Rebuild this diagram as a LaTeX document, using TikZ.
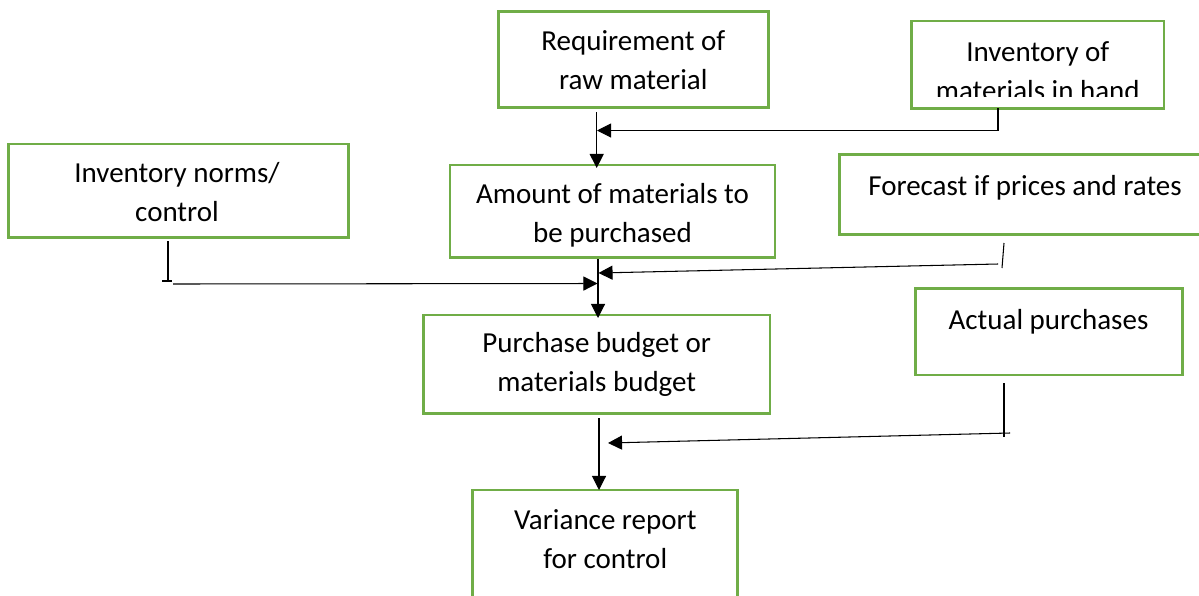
\documentclass[tikz,border=0pt]{standalone}
\usepackage{fontspec}
\setmainfont{Carlito}
\usetikzlibrary{arrows.meta,fit}
\definecolor{boxgreen}{HTML}{70AD47}
\begin{document}
\begin{tikzpicture}[x=0.02cm,y=-0.02cm,
  box/.style={draw=boxgreen, line width=1.5pt, inner sep=0pt, outer sep=0pt, rectangle},
  % base anchor of a two-line text sits on its last line
  txt/.style={font=\fontsize{16.5}{22.1}\selectfont, align=center, anchor=base, inner sep=0pt},
  link/.style={line width=0.6pt, black},
  arr/.style={link, -{Triangle[length=8pt,width=8pt]}}]
\useasboundingbox (0,0) rectangle (1199,595);
\clip (0,0) rectangle (1199,595);
\fill[white] (0,0) rectangle (1199,595);

% boxes
\node[box, fit={(498.3,11.7) (768.3,107.3)}] (req) {};
\node[box, fit={(911.7,21) (1164,108.3)}] (hand) {};
\node[box, fit={(8.3,144) (348.3,237.3)}] (norms) {};
\node[box, fit={(450,165) (775,257.7)}] (amount) {};
\node[box, fit={(839.3,154.3) (1210,234.3)}] (forecast) {};
\node[box, fit={(423.3,315) (770,413.3)}] (purchase) {};
\node[box, fit={(915.7,288.3) (1182.3,375)}] (actual) {};
\node[box, fit={(472.7,490) (737.3,610)}] (variance) {};

% box texts
\node[txt] (reqtxt) at (633.3,89.5) {Requirement of\\raw material};
\begin{scope}
  \clip (911.7,21) rectangle (1164,96);
  \node[txt] (handtxt) at (1037.8,100.5) {Inventory of\\materials in hand};
\end{scope}
\node[txt] (normstxt) at (177,221.7) {Inventory norms/\\control};
\node[txt] (amounttxt) at (612.5,242.7) {Amount of materials to\\be purchased};
\node[txt] (forecasttxt) at (1025,195.5) {Forecast if prices and rates};
\node[txt] (purchasetxt) at (596.7,391.7) {Purchase budget or\\materials budget};
\node[txt] (actualtxt) at (1048.5,329.5) {Actual purchases};
\node[txt] (variancetxt) at (605.3,568.3) {Variance report\\for control};

% main spine
\coordinate (reqout) at (596.7,112.3);
\coordinate (amountin) at (596.7,168);
\draw[arr] (reqout) -- (amountin);
\coordinate (amountout) at (598,259);
\coordinate (purchasein) at (598,318);
\draw[arr] (amountout) -- (purchasein);
\coordinate (purchaseout) at (599,418);
\coordinate (variancein) at (599,490);
\draw[arr] (purchaseout) -- (variancein);

% inventory in hand feed
\coordinate (handdrop) at (998,108.3);
\coordinate (handbend) at (998,130.5);
\coordinate (handjoin) at (597,130.5);
\draw[arr] (handdrop) -- (handbend) -- (handjoin);

% inventory norms feed
\coordinate (normsdrop) at (168,241);
\coordinate (normsfoot) at (168,281);
\coordinate (normstickL) at (162,281);
\coordinate (normstickR) at (172,281);
\draw[link] (normsdrop) -- (normsfoot);
\draw[link] (normstickL) -- (normstickR);
\coordinate (normsstart) at (173,284);
\coordinate (normsjoin) at (597.5,283.5);
\draw[arr] (normsstart) -- (normsjoin);

% forecast feed
\coordinate (forecasttickA) at (1004,243);
\coordinate (forecasttickB) at (1002,268);
\draw[link] (forecasttickA) -- (forecasttickB);
\coordinate (forecaststart) at (998,264);
\coordinate (forecastjoin) at (598.5,273);
\draw[arr] (forecaststart) -- (forecastjoin);

% actual purchases feed
\coordinate (actualdrop) at (1004,383);
\coordinate (actualfoot) at (1004,437);
\draw[link] (actualdrop) -- (actualfoot);
\coordinate (actualstart) at (1010,433);
\coordinate (actualjoin) at (608,443);
\draw[arr] (actualstart) -- (actualjoin);
\end{tikzpicture}
\end{document}
